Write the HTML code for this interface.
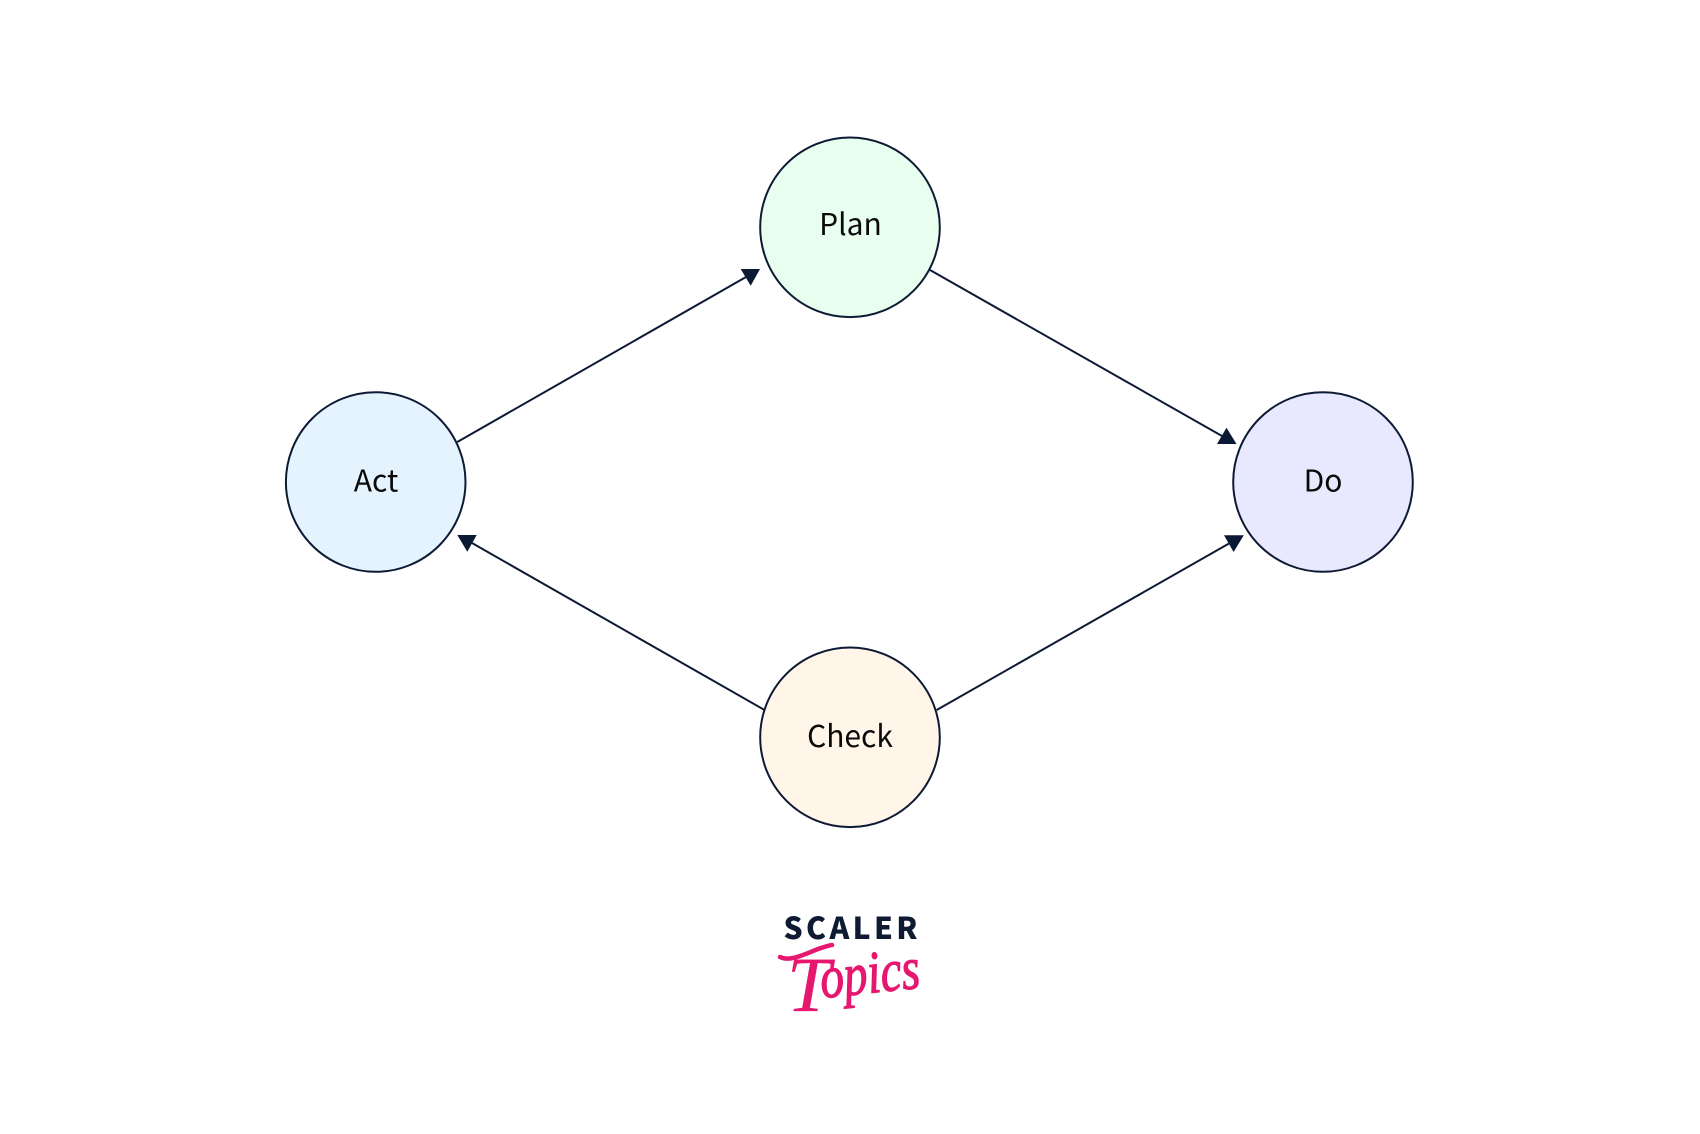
<!DOCTYPE html>
<html><head><meta charset="utf-8"><style>html,body{margin:0;padding:0;background:#fff;width:1700px;height:1134px;overflow:hidden}svg{display:block}</style></head>
<body>
<svg width="1700" height="1134" viewBox="0 0 1700 1134" xmlns="http://www.w3.org/2000/svg">
<rect width="1700" height="1134" fill="#fff"/>
<g stroke="#0d1a33" stroke-width="2" fill="none">
<line x1="457.3" y1="442" x2="746" y2="277"/>
<line x1="930" y1="270" x2="1222" y2="436"/>
<line x1="936.7" y1="710" x2="1229" y2="543.5"/>
<line x1="764" y1="709.7" x2="472" y2="543"/>
</g>
<g fill="#0a1a35">
<polygon points="740.7,269 760,269 750.7,285.7"/>
<polygon points="1226.5,427.8 1217,444 1236.5,444"/>
<polygon points="1224,535.3 1243.8,535.3 1233.6,552"/>
<polygon points="457.3,535 476.7,535 467.3,551.7"/>
</g>
<g stroke="#0d1a33" stroke-width="2">
<circle cx="850" cy="227.3" r="89.8" fill="#e8feee"/>
<circle cx="375.7" cy="482" r="89.8" fill="#e5f3ff"/>
<circle cx="1323" cy="482" r="89.8" fill="#e8e8fe"/>
<circle cx="850" cy="737.3" r="89.8" fill="#fff5e8"/>
</g>
<g font-family="'Noto Sans CJK JP','Liberation Sans',sans-serif" font-size="30" fill="#0a0a0a" text-anchor="middle">
<text x="850.5" y="235">Plan</text>
<text x="376" y="491.5">Act</text>
<text x="1323" y="491.5">Do</text>
<text x="850" y="747">Check</text>
</g>
<text x="783.5" y="939" font-family="'Noto Sans CJK JP','Liberation Sans',sans-serif" font-weight="900" font-size="30" fill="#0f1b33" textLength="134" lengthAdjust="spacing">SCALER</text>
<g font-family="'Liberation Serif',serif" font-style="italic" fill="#e6176f" stroke="#e6176f">
<text x="787" y="1011" font-size="78" stroke-width="0.3">T</text>
<text transform="rotate(-6 822 998)" x="822" y="998" font-size="60" stroke-width="1.2" textLength="100" lengthAdjust="spacingAndGlyphs">opics</text>
</g>
<path d="M780 957 C790 962 805 954 818 949 C824 947 830 945 832 945" fill="none" stroke="#e6176f" stroke-width="4.5" stroke-linecap="round"/>
</svg>
</body></html>
